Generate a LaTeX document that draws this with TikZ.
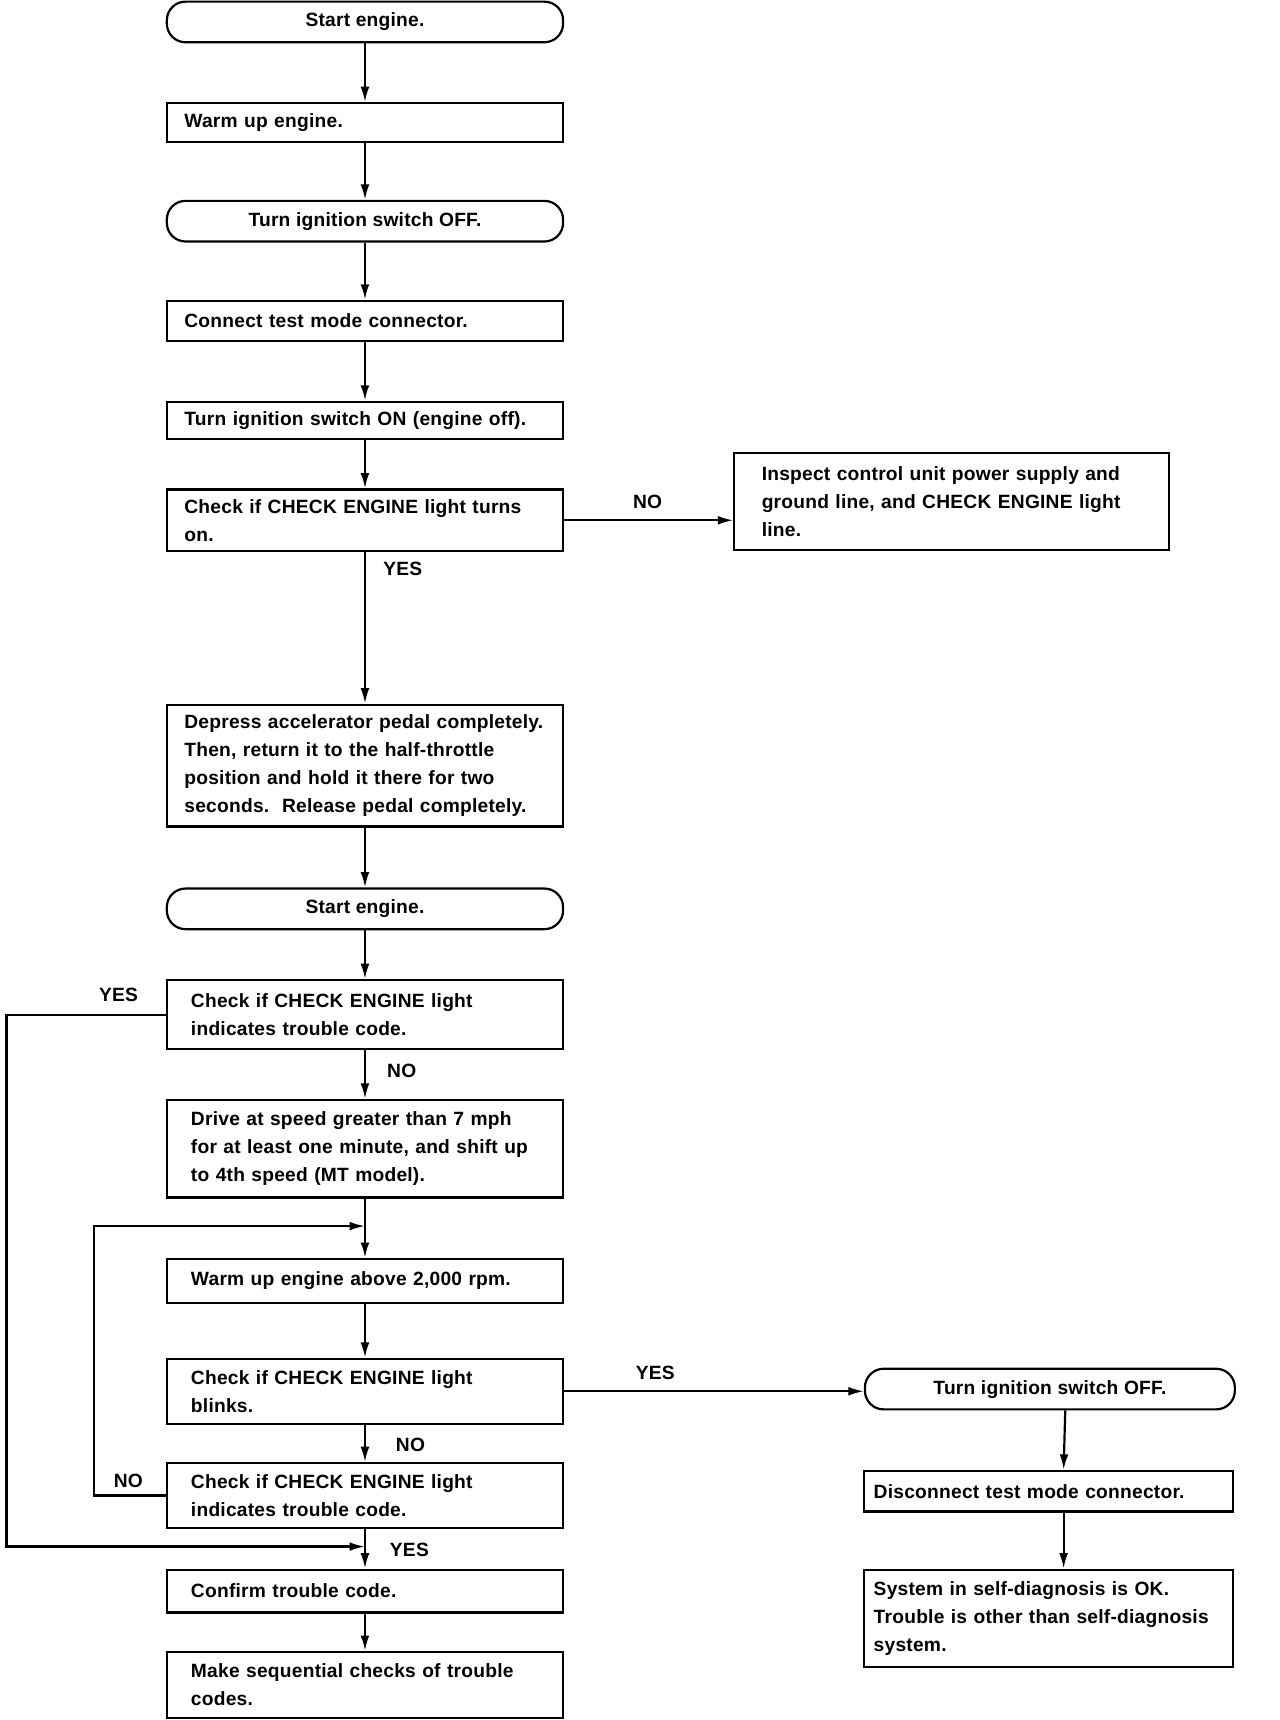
\documentclass[tikz,border=0pt]{standalone}
\usepackage{fontspec}
\setmainfont{Liberation Sans}[LetterSpace=1.2]
\usepackage{tikz}
\usetikzlibrary{arrows.meta}

\begin{document}
\begin{tikzpicture}
 [ x=1pt
 , y=-1pt
 , every node/.style={font=\fontsize{17.5}{25.4}\selectfont\bfseries}
 , stepbox/.style={draw, line width=2pt, minimum width=361pt, inner xsep=16pt, inner ysep=3pt, text width=329pt, align=left}
 , lowbox/.style={stepbox, inner xsep=22pt, text width=317pt}
 , sidebox/.style={stepbox, minimum width=336pt, inner xsep=9pt, text width=318pt}
 , terminal/.style={draw, line width=2pt, rounded corners=17pt, minimum width=361pt, minimum height=37pt, align=center}
 , answer/.style={inner sep=0pt}
 , flow/.style={line width=2pt, -{Latex[length=14pt,width=8pt]}}
 ]
  \useasboundingbox (0,0) rectangle (1166,1567);

  % main column
  \node[terminal] (start) at (332.5,20) {Start engine.};
  \node[stepbox, minimum height=35pt] (warm) at (332.5,111.5) {Warm up engine.};
  \node[terminal] (off) at (332.5,201.5) {Turn ignition switch OFF.};
  \node[stepbox, minimum height=37pt] (connect) at (332.5,292.5) {Connect test mode connector.};
  \node[stepbox, minimum height=34pt] (on) at (332.5,383) {Turn ignition switch ON (engine off).};
  \node[stepbox, minimum height=56pt] (lighton) at (332.5,474) {Check if CHECK ENGINE light turns\\on.};
  \node[stepbox, minimum height=111pt] (pedal) at (332.5,697.5)
    {Depress accelerator pedal completely.\\Then, return it to the half-throttle\\position and hold it there for two\\seconds.\ \ Release pedal completely.};
  \node[terminal] (restart) at (332.5,828) {Start engine.};
  \node[lowbox, minimum height=63pt] (code) at (332.5,924.5) {Check if CHECK ENGINE light\\indicates trouble code.};
  \node[lowbox, minimum height=89pt] (drive) at (332.5,1046.5)
    {Drive at speed greater than 7 mph\\for at least one minute, and shift up\\to 4th speed (MT model).};
  \node[lowbox, minimum height=40pt] (hot) at (332.5,1167) {Warm up engine above 2,000 rpm.};
  \node[lowbox, minimum height=59pt] (blink) at (332.5,1267.5) {Check if CHECK ENGINE light\\blinks.};
  \node[lowbox, minimum height=59pt] (recheck) at (332.5,1362.5) {Check if CHECK ENGINE light\\indicates trouble code.};
  \node[lowbox, minimum height=39pt] (confirm) at (332.5,1449.5) {Confirm trouble code.};
  \node[lowbox, minimum height=60pt] (sequence) at (332.5,1535) {Make sequential checks of trouble\\codes.};

  % right column
  \node[stepbox, minimum width=396pt, inner xsep=25pt, text width=346pt, minimum height=88pt] (inspect) at (867,457)
    {Inspect control unit power supply and\\ground line, and CHECK ENGINE light\\line.};
  \node[terminal, minimum width=337pt] (offagain) at (956.5,1265.5) {Turn ignition switch OFF.};
  \node[sidebox, minimum height=37pt] (disconnect) at (955,1358.5) {Disconnect test mode connector.};
  \node[sidebox, minimum height=89pt] (systemok) at (955,1474.5)
    {System in self-diagnosis is OK.\\Trouble is other than self-diagnosis\\system.};

  \node[answer] (yesA) at (367,518) {YES};
  \node[answer] (noA) at (590,457) {NO};
  \node[answer] (yesB) at (108,906) {YES};
  \node[answer] (noB) at (366,976) {NO};
  \node[answer] (yesC) at (597,1251) {YES};
  \node[answer] (noC) at (374,1316) {NO};
  \node[answer] (noD) at (117,1349) {NO};
  \node[answer] (yesD) at (373,1412) {YES};

  \coordinate (loopin) at (332.5,1117);
  \coordinate (codein) at (332.5,1409);

  \draw[flow] (start) -- (warm);
  \draw[flow] (warm) -- (off);
  \draw[flow] (off) -- (connect);
  \draw[flow] (connect) -- (on);
  \draw[flow] (on) -- (lighton);
  \draw[flow] (lighton) -- (pedal);
  \draw[flow] (lighton.east) -- (lighton.east -| inspect.west);
  \draw[flow] (pedal) -- (restart);
  \draw[flow] (restart) -- (code);
  \draw[flow] (code) -- (drive);
  \draw[flow] (drive) -- (hot);
  \draw[flow] (hot) -- (blink);
  \draw[flow] (blink) -- (recheck);
  \draw[flow] (recheck) -- (confirm);
  \draw[flow] (confirm) -- (sequence);
  \draw[flow] (recheck.west) -- ++(-65,0) |- (loopin);
  \draw[flow] (code.west) -- ++(-145,0) |- (codein);
  \draw[flow] (blink.east) -- (blink.east -| offagain.west);
  \draw[flow] ([xshift=14pt]offagain.south) -- ([xshift=14pt]disconnect.north);
  \draw[flow] ([xshift=14pt]disconnect.south) -- ([xshift=14pt]systemok.north);
\end{tikzpicture}
\end{document}
